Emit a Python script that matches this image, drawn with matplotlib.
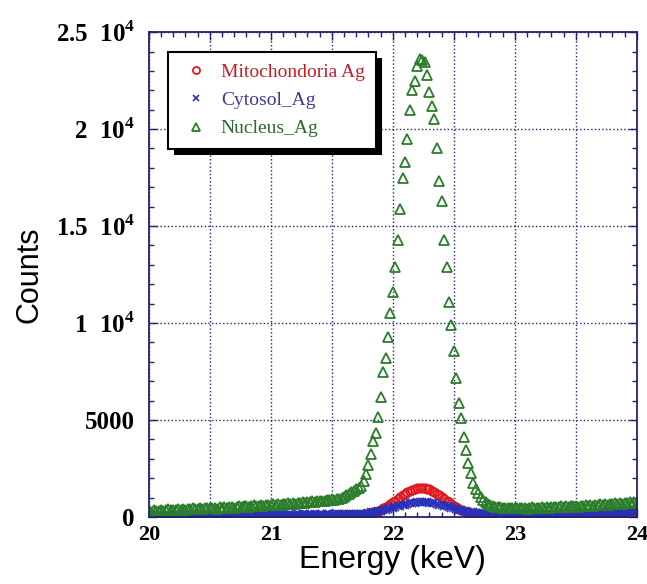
import numpy as np
import matplotlib
matplotlib.use("Agg")
from matplotlib import pyplot as plt
from matplotlib.patches import Rectangle
from matplotlib.ticker import MultipleLocator, FixedLocator, FixedFormatter

plt.rcParams["mathtext.fontset"] = "custom"
plt.rcParams["mathtext.rm"] = "Liberation Serif"
plt.rcParams["mathtext.bf"] = "Liberation Serif:bold"

# energy channels (keV), 0.02 keV step
energy = np.linspace(20, 24, 201)

mito = [
    40, 20, 60, 30, 50, 10, 45, 25, 55, 35,
    -120, 40, 20, 60, 30, 50, 25, 45, 15, 55,
    35, 60, 20, 50, 40, 70, 30, 55, 45, 25,
    60, 40, 70, 30, 55, 45, 65, 35, 60, 50,
    45, 70, 40, 60, 75, 50, 65, 40, 70, 55,
    60, 45, 75, 55, 70, 50, 80, 60, 45, 70,
    55, 75, 60, 80, 50, 70, -110, 65, 85, 60,
    75, 55, 80, 65, 90, 70, 60, 85, 75, 90,
    80, 95, 85, 100, 90, 95, 105, 110, 130, 150,
    170, 205, 235, 280, 325, 385, 440, 515, 585, 670,
    760, 850, 935, 1035, 1120, 1210, 1285, 1360, 1410, 1465,
    1490, 1505, 1515, 1490, 1455, 1420, 1350, 1290, 1200, 1125,
    1030, 940, 845, 755, 665, 585, 505, 435, 370, 315,
    255, 215, 175, 140, 115, 95, 75, 60, 50, 40,
    30, 35, 25, 40, 30, 45, 35, 40, 50, 45,
    50, 55, 45, 60, 55, 65, 60, 70, 65, 75,
    70, 80, 75, 85, 80, 90, 85, 95, 100, 95,
    105, 110, 100, 120, 115, 125, 130, 120, 140, 135,
    145, 150, 140, 160, 165, 155, 175, 180, 170, 190,
    195, 205, 200, 215, 225, 220, 240, 250, 245, 265,
    280,
]

cytosol = [
    60, 80, 50, 70, 90, 60, 75, 55, 85, 65,
    70, 90, 60, 80, 100, 70, 85, 65, 95, 75,
    80, 100, 70, 90, 110, 80, 95, 75, 105, 85,
    90, 110, 80, 100, 115, 85, 105, 95, 120, 90,
    100, 120, 90, 110, 125, 95, 115, 100, 130, 105,
    110, 125, 95, 120, 135, 105, 125, 110, 140, 115,
    120, 135, 105, 130, 145, 115, 135, 120, 150, 125,
    130, 145, 115, 140, 155, 125, 145, 130, 160, 135,
    140, 155, 130, 150, 165, 140, 160, 150, 175, 165,
    220, 235, 250, 270, 295, 315, 345, 375, 405, 440,
    475, 510, 545, 580, 615, 645, 680, 705, 725, 745,
    760, 765, 770, 765, 760, 745, 725, 705, 675, 645,
    615, 580, 545, 510, 475, 440, 405, 375, 345, 315,
    290, 270, 250, 235, 220, 205, 195, 185, 180, 175,
    170, 150, 165, 140, 160, 145, 155, 135, 150, 140,
    150, 135, 160, 140, 155, 145, 165, 150, 140, 160,
    155, 170, 150, 165, 175, 160, 180, 165, 185, 170,
    180, 195, 175, 190, 200, 185, 205, 195, 210, 190,
    205, 215, 200, 220, 230, 210, 235, 225, 240, 230,
    245, 255, 240, 260, 270, 255, 275, 265, 285, 275,
    290,
]

nucleus = [
    310, 280, 350, 300, 330, 370, 320, 340, 390, 350,
    380, 340, 400, 370, 410, 360, 420, 390, 440, 400,
    430, 470, 410, 450, 480, 440, 490, 460, 430, 500,
    470, 520, 480, 510, 540, 490, 530, 560, 510, 550,
    580, 530, 570, 600, 550, 590, 620, 570, 610, 640,
    600, 650, 620, 670, 640, 690, 650, 700, 680, 720,
    690, 740, 710, 760, 730, 780, 750, 800, 770, 820,
    800, 850, 820, 880, 860, 910, 890, 950, 930, 990,
    1050, 1110, 1200, 1280, 1350, 1420, 1490, 1600, 1880, 2200,
    2700, 3250, 3900, 4350, 5150, 6200, 7500, 8200, 9300, 10500,
    11600, 12900, 14300, 15900, 17500, 18300, 19500, 21000, 22000, 22500,
    23250, 23600, 23550, 23450, 22800, 21900, 21200, 20500, 19000, 17300,
    16300, 14300, 12900, 11100, 9900, 8550, 7160, 5900, 5100, 4120,
    3450, 2800, 2250, 1750, 1450, 1220, 1030, 900, 780, 690,
    620, 580, 540, 520, 500, 470, 490, 450, 480, 460,
    440, 470, 450, 490, 460, 430, 480, 500, 460, 490,
    470, 510, 480, 520, 490, 530, 500, 540, 510, 550,
    520, 560, 530, 570, 550, 580, 540, 590, 570, 600,
    580, 620, 590, 640, 610, 650, 630, 670, 640, 680,
    660, 700, 670, 720, 690, 730, 710, 750, 720, 760,
    740,
]

labels = ["Mitochondoria Ag", "Cytosol_Ag", "Nucleus_Ag"]
y_ticks = [0, 5000, 10000, 15000, 20000, 25000]
y_ticklabels = ["0", "5000", r"1  10$^{\mathbf{4}}$", r"1.5  10$^{\mathbf{4}}$",
                r"2  10$^{\mathbf{4}}$", r"2.5  10$^{\mathbf{4}}$"]
x_ticks = [20, 20.5, 21, 21.5, 22, 22.5, 23, 23.5, 24]
x_ticklabels = ["20", "", "21", "", "22", "", "23", "", "24"]

navy = "#22226e"
red = "#e0191f"
blue = "#2630b8"
green = "#2b7d2b"

fig = plt.figure(figsize=(6.47, 5.84), dpi=100)
ax = fig.add_axes([0.230, 0.1147, 0.7543, 0.8303])

ax.plot(energy, mito, linestyle="none", marker="o", ms=6, mfc="none", mec=red, mew=1.3,
        label=labels[0])
ax.plot(energy, cytosol, linestyle="none", marker="x", ms=5.5, color=blue, mew=1.2,
        label=labels[1])
ax.plot(energy, nucleus, linestyle="none", marker="^", ms=6.5, mfc="none", mec=green, mew=1.3,
        label=labels[2])

ax.set_xlim(20, 24)
ax.set_ylim(0, 25000)

ax.xaxis.set_major_locator(FixedLocator(x_ticks))
ax.xaxis.set_major_formatter(FixedFormatter(x_ticklabels))
ax.xaxis.set_minor_locator(MultipleLocator(0.1))
ax.yaxis.set_major_locator(FixedLocator(y_ticks))
ax.yaxis.set_major_formatter(FixedFormatter(y_ticklabels))
ax.yaxis.set_minor_locator(MultipleLocator(1000))

ax.tick_params(which="both", direction="in", top=True, right=True, color=navy)
ax.tick_params(which="major", length=6, width=1)
ax.tick_params(which="minor", length=3.5, width=1)
ax.tick_params(axis="x", pad=6)
ax.tick_params(axis="y", pad=10)
for lab in ax.get_xticklabels():
    lab.set_fontfamily("Liberation Serif")
    lab.set_fontweight("bold")
    lab.set_fontsize(16)
for lab in ax.get_yticklabels():
    lab.set_fontfamily("Liberation Serif")
    lab.set_fontweight("bold")
    lab.set_fontsize(18)

for sp in ax.spines.values():
    sp.set_color(navy)
    sp.set_linewidth(1.3)

ax.grid(which="major", linestyle=":", color=navy, linewidth=1.0)
ax.set_axisbelow(True)

ax.set_xlabel("Energy (keV)", fontsize=23, family="Liberation Sans", labelpad=0)
ax.set_ylabel("Counts", fontsize=22, family="Liberation Sans", labelpad=8)

leg = ax.legend(loc="upper left", bbox_to_anchor=(0.04, 0.96), frameon=True, fancybox=False,
                framealpha=1, facecolor="white",
                prop={"family": "Liberation Serif", "size": 14},
                handletextpad=0.5, borderpad=0.6, labelspacing=0.55, handlelength=1.6,
                borderaxespad=0, markerscale=0.85)
leg.set_zorder(6)
leg.get_frame().set_edgecolor("black")
leg.get_frame().set_linewidth(1.5)
for txt, c in zip(leg.get_texts(), ["#c01f2a", "#3b3b95", "#2a6a2a"]):
    txt.set_color(c)

# solid black drop shadow under the legend box
fig.canvas.draw()
bb = leg.get_window_extent().transformed(ax.transAxes.inverted())
dx = 6 / ax.bbox.width
dy = 6 / ax.bbox.height
ax.add_patch(Rectangle((bb.x0 + dx, bb.y0 - dy), bb.width, bb.height, transform=ax.transAxes,
                       facecolor="black", edgecolor="none", zorder=5.5, clip_on=False))

fig.savefig("out.png", dpi=100, facecolor="white")
